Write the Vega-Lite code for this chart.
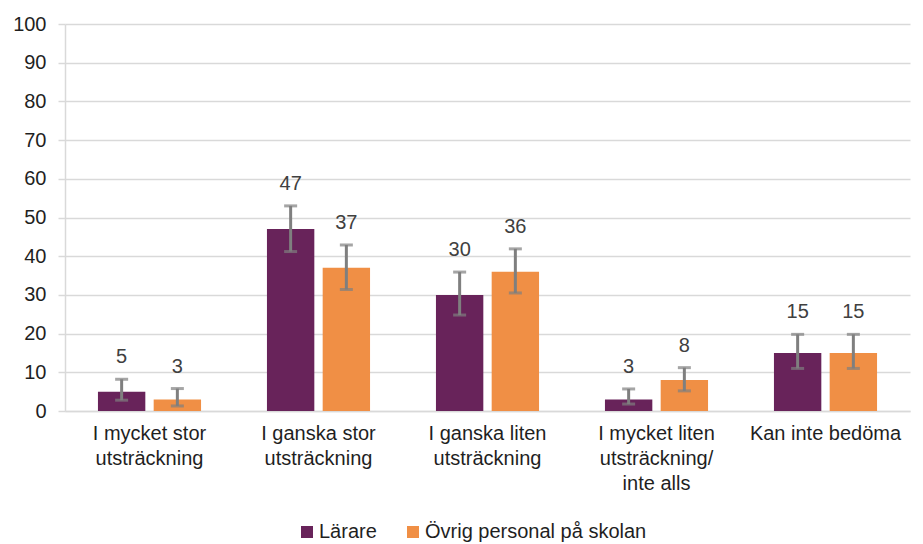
{
  "$schema": "https://vega.github.io/schema/vega-lite/v6.json",
  "width": 845,
  "height": 387,
  "autosize": {"type": "none"},
  "padding": {"left": 65, "top": 24, "right": 13, "bottom": 133},
  "background": "white",
  "config": {
    "view": {"stroke": null},
    "font": "Liberation Sans",
    "text": {"font": "Liberation Sans"}
  },
  "data": {
    "values": [
      {"cat": "I mycket stor|utsträckning", "group": "Lärare", "value": 5, "lo": 2.8, "hi": 8.2},
      {"cat": "I mycket stor|utsträckning", "group": "Övrig personal på skolan", "value": 3, "lo": 1.3, "hi": 5.8},
      {"cat": "I ganska stor|utsträckning", "group": "Lärare", "value": 47, "lo": 41.2, "hi": 53},
      {"cat": "I ganska stor|utsträckning", "group": "Övrig personal på skolan", "value": 37, "lo": 31.4, "hi": 42.9},
      {"cat": "I ganska liten|utsträckning", "group": "Lärare", "value": 30, "lo": 24.8, "hi": 35.9},
      {"cat": "I ganska liten|utsträckning", "group": "Övrig personal på skolan", "value": 36, "lo": 30.5, "hi": 41.9},
      {"cat": "I mycket liten|utsträckning/|inte alls", "group": "Lärare", "value": 3, "lo": 1.8, "hi": 5.7},
      {"cat": "I mycket liten|utsträckning/|inte alls", "group": "Övrig personal på skolan", "value": 8, "lo": 5.2, "hi": 11.2},
      {"cat": "Kan inte bedöma", "group": "Lärare", "value": 15, "lo": 11, "hi": 19.8},
      {"cat": "Kan inte bedöma", "group": "Övrig personal på skolan", "value": 15, "lo": 11, "hi": 19.8}
    ]
  },
  "encoding": {
    "x": {
      "field": "cat",
      "type": "nominal",
      "sort": null,
      "scale": {"paddingInner": 0.39, "paddingOuter": 0.195},
      "axis": {
        "title": null,
        "labelAngle": 0,
        "labelExpr": "split(datum.label, '|')",
        "labelFontSize": 20,
        "labelColor": "#1F1F1F",
        "labelLineHeight": 25,
        "labelPadding": 12,
        "labelBaseline": "top",
        "labelLimit": 300,
        "ticks": false,
        "domainColor": "#D9D9D9",
        "domainWidth": 1.5
      }
    },
    "xOffset": {
      "field": "group",
      "type": "nominal",
      "sort": ["Lärare", "Övrig personal på skolan"],
      "scale": {"paddingInner": 0.15}
    }
  },
  "layer": [
    {
      "mark": {"type": "bar"},
      "encoding": {
        "y": {
          "field": "value",
          "type": "quantitative",
          "scale": {"domain": [0, 100], "nice": false, "zero": true},
          "axis": {
            "title": null,
            "values": [0, 10, 20, 30, 40, 50, 60, 70, 80, 90, 100],
            "tickCount": 11,
            "labelOverlap": false,
            "labelFontSize": 20,
            "labelColor": "#1F1F1F",
            "labelPadding": 12,
            "gridColor": "#D9D9D9",
            "gridWidth": 1.5,
            "domainColor": "#D9D9D9",
            "domainWidth": 1.5,
            "tickColor": "#D9D9D9",
            "tickSize": 7,
            "tickWidth": 1.5
          }
        },
        "color": {
          "field": "group",
          "type": "nominal",
          "sort": ["Lärare", "Övrig personal på skolan"],
          "scale": {"domain": ["Lärare", "Övrig personal på skolan"], "range": ["#68235A", "#F08F45"]},
          "legend": {
            "title": null,
            "orient": "none",
            "direction": "horizontal",
            "legendX": 232,
            "legendY": 498,
            "symbolType": "square",
            "symbolSize": 144,
            "symbolStrokeWidth": 0,
            "labelFontSize": 20,
            "labelColor": "#1F1F1F",
            "labelOffset": 2,
            "labelLimit": 400,
            "columnPadding": 26
          }
        }
      }
    },
    {
      "mark": {"type": "rule", "color": "#7F7F7F", "strokeWidth": 3},
      "encoding": {
        "y": {"field": "lo", "type": "quantitative"},
        "y2": {"field": "hi"}
      }
    },
    {
      "mark": {"type": "tick", "color": "#7F7F7F", "size": 13, "thickness": 3},
      "encoding": {
        "y": {"field": "lo", "type": "quantitative"}
      }
    },
    {
      "mark": {"type": "tick", "color": "#7F7F7F", "size": 13, "thickness": 3},
      "encoding": {
        "y": {"field": "hi", "type": "quantitative"}
      }
    },
    {
      "mark": {"type": "text", "baseline": "bottom", "dy": -12, "fontSize": 20, "color": "#404040"},
      "encoding": {
        "y": {"field": "hi", "type": "quantitative"},
        "text": {"field": "value", "type": "quantitative"}
      }
    }
  ]
}
